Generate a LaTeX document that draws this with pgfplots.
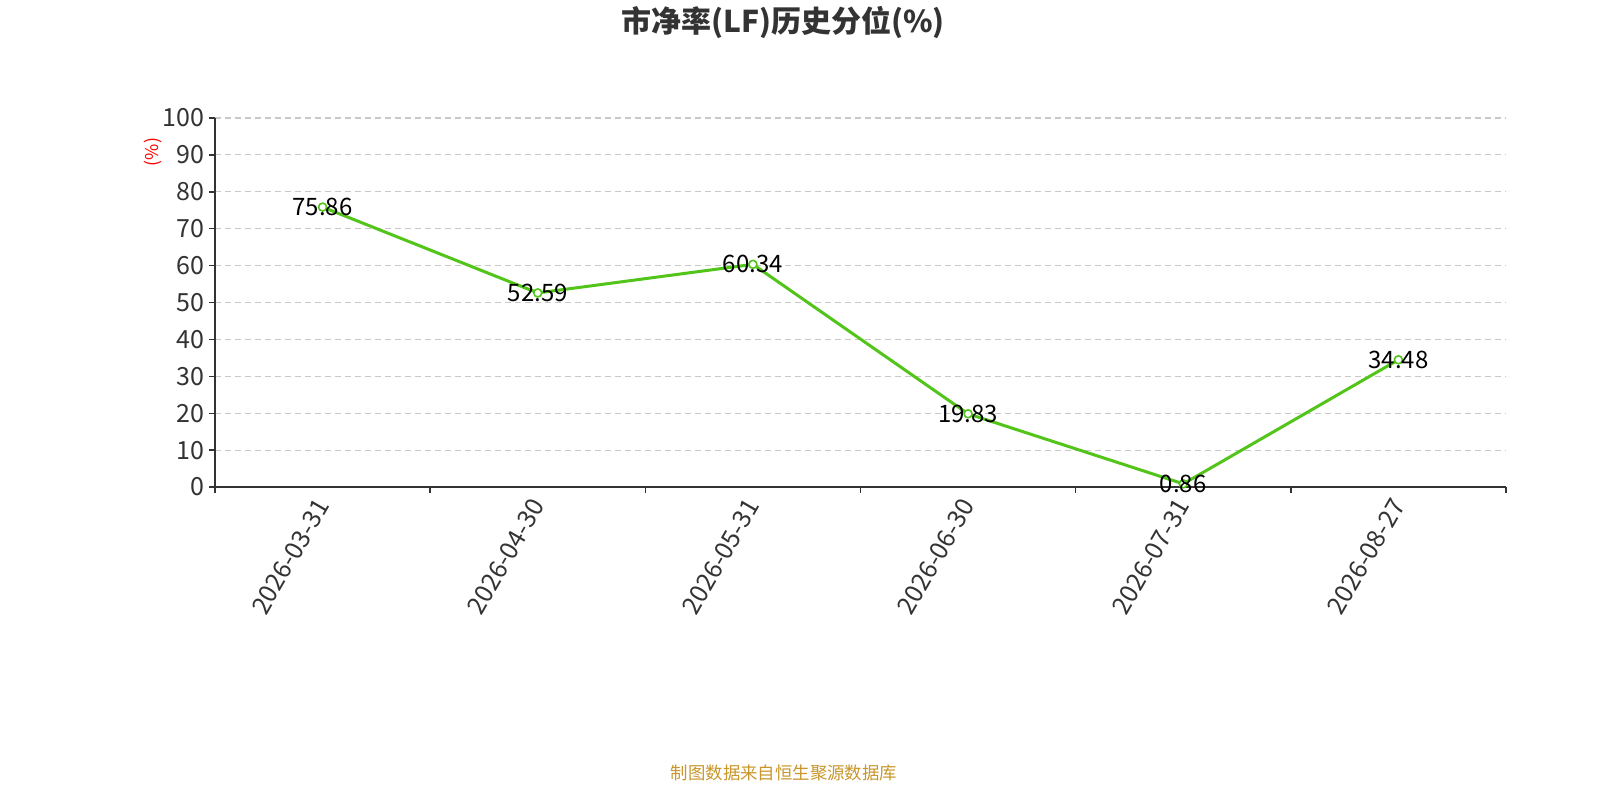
\documentclass[border=0pt]{standalone}
\usepackage{pgfplots}
\pgfplotsset{compat=1.18}
\usepackage{fontspec}
\setmainfont{Noto Sans CJK SC}
\definecolor{lg}{HTML}{52C41A}
\definecolor{axc}{HTML}{333333}
\definecolor{gridc}{HTML}{C8C8C8}
\definecolor{foot}{HTML}{C8962A}
\begin{document}
\begin{tikzpicture}
\useasboundingbox (0pt,0pt) rectangle (800pt,400pt);
\node[font=\fontsize{15}{18}\selectfont\bfseries, text=axc] at (391.5pt,389pt) {市净率(LF)历史分位(\%)};
\node[font=\fontsize{8.7}{10}\selectfont, text=foot] at (392pt,13.5pt) {制图数据来自恒生聚源数据库};
\node[rotate=90, font=\fontsize{8.8}{10}\selectfont, text=red] at (76.5pt,324pt) {(\%)};
\begin{axis}[
  at={(107.5pt,156.5pt)}, anchor=south west,
  scale only axis, width=645.5pt, height=184.5pt,
  xmin=-0.5, xmax=5.5, ymin=0, ymax=100,
  axis x line*=bottom, axis y line*=left,
  axis line style={axc, line width=0.7pt, -},
  xtick={0,...,5},
  xticklabels={2026-03-31,2026-04-30,2026-05-31,2026-06-30,2026-07-31,2026-08-27},
  major x tick style={draw=none},
  minor xtick={-0.5,0.5,1.5,2.5,3.5,4.5,5.5},
  minor x tick style={axc, line width=0.7pt},
  minor tick length=3pt,
  xtick pos=bottom, ytick pos=left,
  tick align=outside,
  ytick={0,10,...,100},
  major tick length=3pt,
  ytick style={axc, line width=0.7pt},
  ymajorgrids,
  grid style={gridc, line width=0.55pt, dash pattern=on 3pt off 2pt},
  xticklabel style={rotate=60, anchor=east, font=\fontsize{12.5}{14}\selectfont, text=axc, yshift=-2pt},
  yticklabel style={font=\fontsize{12.5}{14}\selectfont, text=axc, xshift=1pt},
  /pgf/number format/assume math mode=true,
  clip=false,
]
\addplot[lg, line width=1.5pt, mark=*, mark size=2pt, mark options={fill=white, draw=lg, line width=0.8pt},
  nodes near coords={\pgfmathprintnumber[fixed,fixed zerofill,precision=2,assume math mode=true]{\pgfplotspointmeta}},
  every node near coord/.append style={anchor=center, text=black, font=\fontsize{12}{14}\selectfont}]
  coordinates {(0,75.86) (1,52.59) (2,60.34) (3,19.83) (4,0.86) (5,34.48)};
\end{axis}
\end{tikzpicture}
\end{document}
